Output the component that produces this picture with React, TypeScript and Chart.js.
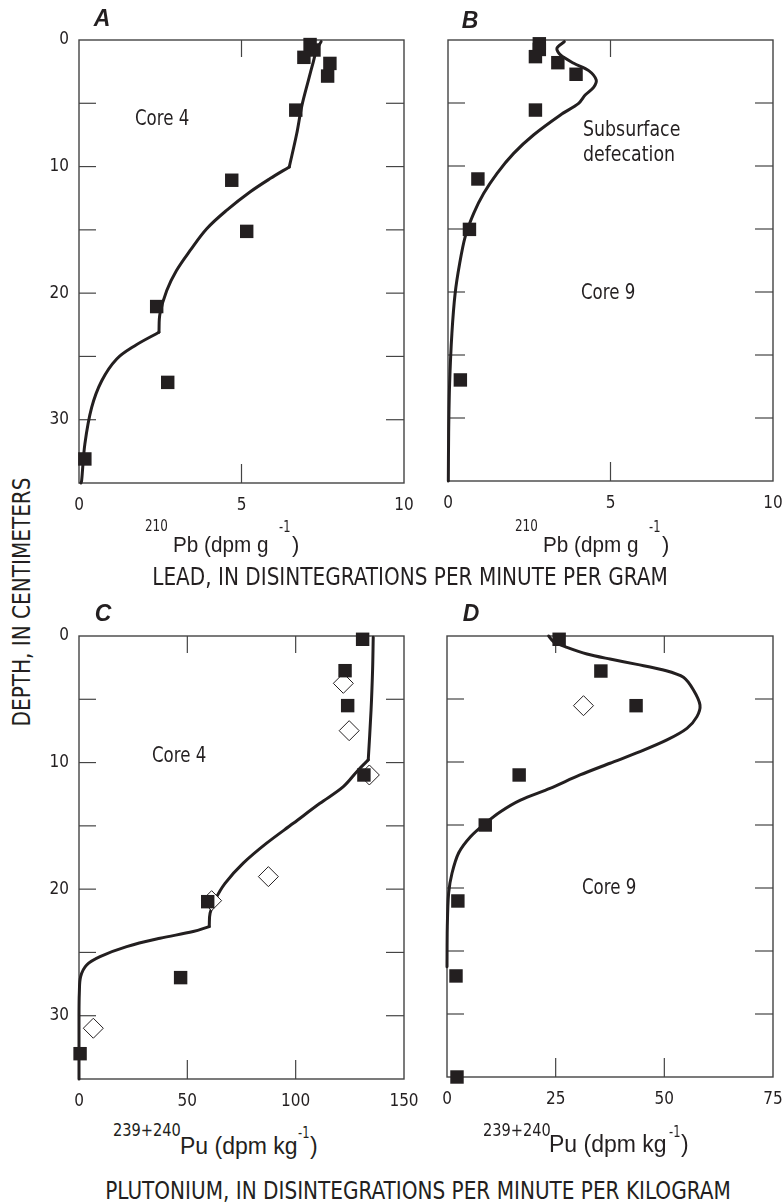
import React, { useEffect, useRef } from 'react';
import { Chart, registerables } from 'chart.js';
Chart.register(...registerables);

const NARROW = "'Liberation Sans Narrow', 'DejaVu Sans Condensed', 'Liberation Sans', sans-serif";
const SANS = "'Liberation Sans', Arial, sans-serif";
const INK = '#231f20';

// ---------- Panel A : 210Pb, core 4 ----------
const aSquaresX = [7.11, 7.23, 6.92, 7.72, 7.65, 6.67, 4.7, 5.16, 2.39, 2.73, 0.18];
const aSquaresDepth = [0.36, 0.79, 1.37, 1.85, 2.85, 5.54, 11.08, 15.12, 21.06, 27.05, 33.1];
// model curve, split at its two breaks (10 cm and 23 cm)
const aCurve1X = [7.45, 7.31, 7.21, 7.06, 6.85, 6.7, 6.47];
const aCurve1Depth = [0.13, 0.79, 1.72, 3.17, 5.28, 7.39, 10.03];
const aCurve2X = [6.47, 5.88, 5.26, 4.54, 3.93, 3.42, 3.0, 2.7, 2.49, 2.46];
const aCurve2Depth = [10.03, 10.95, 12.01, 13.46, 14.91, 16.63, 18.21, 19.79, 21.64, 23.09];
const aCurve3X = [2.46, 1.72, 1.16, 0.7, 0.39, 0.18, 0.08, 0.06];
const aCurve3Depth = [23.09, 24.15, 25.2, 26.92, 29.03, 31.93, 34.84, 35];

// ---------- Panel B : 210Pb, core 9 ----------
const bSquaresX = [2.81, 2.81, 2.69, 3.38, 3.94, 2.69, 0.92, 0.66, 0.38];
const bSquaresDepth = [0.3, 0.75, 1.32, 1.8, 2.72, 5.56, 11.03, 15.03, 26.98];
const bCurveX = [3.58, 3.35, 3.46, 3.87, 4.33, 4.56, 4.48, 4.22, 4.02, 3.46, 2.63, 2.02, 1.51, 1.1, 0.79, 0.53, 0.36, 0.22, 0.12, 0.05, 0.02, 0.01];
const bCurveDepth = [0.13, 0.66, 1.19, 1.85, 2.43, 3.17, 3.76, 4.37, 5.03, 5.95, 7.54, 9.0, 10.58, 12.17, 13.76, 15.61, 17.72, 20.1, 23.28, 27.25, 31.2, 35];

// ---------- Panel C : 239+240Pu, core 4 ----------
const cSquaresX = [130.9, 122.8, 124.0, 131.5, 59.4, 46.9, 0.5];
const cSquaresDepth = [0.26, 2.74, 5.5, 10.98, 20.99, 26.99, 33.0];
const cDiamondsX = [122.0, 124.7, 134.0, 87.4, 61.2, 6.6];
const cDiamondsDepth = [3.74, 7.48, 10.98, 19.01, 20.91, 30.99];
const cCurve1X = [135.8, 135.5, 134.8, 133.5];
const cCurve1Depth = [0.1, 2.69, 5.85, 9.79];
const cCurve2X = [133.5, 128.9, 122.0, 111.2, 98.9, 86.6, 75.8, 67.4, 62.8, 60.5, 60.1];
const cCurve2Depth = [9.79, 10.58, 11.9, 13.22, 14.8, 16.37, 17.95, 19.54, 20.85, 21.9, 22.96];
const cCurve3X = [60.1, 52.7, 37.4, 22.0, 9.7, 3.55, 0.78, 0.15, 0, 0];
const cCurve3Depth = [22.96, 23.35, 23.88, 24.54, 25.33, 25.99, 26.9, 28.22, 30, 35];

// ---------- Panel D : 239+240Pu, core 9 ----------
const dSquaresX = [25.8, 35.4, 43.5, 16.6, 8.8, 2.5, 2.07, 2.3];
const dSquaresDepth = [0.26, 2.78, 5.53, 11.03, 15.0, 21.03, 26.98, 35];
const dDiamondsX = [31.4];
const dDiamondsDepth = [5.53];
const dCurveX = [23.4, 24.5, 27.6, 32.2, 37.5, 43.7, 49.8, 54.4, 56.7, 58.2, 57.5, 55.2, 50.6, 44.4, 37.5, 30.6, 23.7, 16.9, 12.3, 8.8, 5.4, 2.7, 1.15, 0.37, 0.07, 0];
const dCurveDepth = [0, 0.45, 0.9, 1.43, 1.83, 2.25, 2.7, 3.28, 4.29, 5.48, 6.4, 7.33, 8.25, 9.18, 10.1, 11.03, 12.09, 13.02, 13.94, 14.87, 15.93, 17.2, 18.83, 20.42, 23.07, 26.25];

const depthMax = 35;
const depthStep = 5;
const depthLabels = [0, 10, 20, 30];

type P = { x: number; y: number };
const pts = (xs: number[], ys: number[]): P[] => xs.map((x, i) => ({ x, y: ys[i] }));

const framePlugin = {
  id: 'frame',
  beforeDatasetsDraw(chart: any) {
    const { ctx, chartArea: a, scales } = chart;
    const xs = scales.x;
    const ys = scales.y;
    ctx.save();
    ctx.strokeStyle = '#444';
    ctx.lineWidth = 1.4;
    ctx.strokeRect(a.left, a.top, a.right - a.left, a.bottom - a.top);
    ctx.lineWidth = 1.2;
    const line = (x1: number, y1: number, x2: number, y2: number) => {
      ctx.beginPath();
      ctx.moveTo(x1, y1);
      ctx.lineTo(x2, y2);
      ctx.stroke();
    };
    xs.ticks.forEach((t: any) => {
      if (t.value <= xs.min || t.value >= xs.max) return;
      const px = xs.getPixelForValue(t.value);
      line(px, a.top, px, a.top + 17);
      line(px, a.bottom, px, a.bottom - 19);
    });
    ys.ticks.forEach((t: any) => {
      if (t.value <= ys.min || t.value >= ys.max) return;
      const py = ys.getPixelForValue(t.value);
      line(a.left, py, a.left + 17, py);
      line(a.right, py, a.right - 18, py);
    });
    ctx.restore();
  },
};

type PanelProps = {
  L: number; T: number; R: number; B: number;
  xMax: number; xStep: number; showY: boolean;
  squares: P[]; diamonds: P[]; curves: P[][]; tension: number;
};

const YW = 40, PT = 20, PR = 20, XH = 40;

function Panel(p: PanelProps) {
  const ref = useRef<HTMLCanvasElement>(null);
  const w = p.R - p.L + YW + PR;
  const h = p.B - p.T + PT + XH;
  useEffect(() => {
    if (!ref.current) return;
    const tickFont = { family: NARROW, size: 17 };
    const curveSets = p.curves.map((c) => ({
      data: c, showLine: true, pointRadius: 0, borderColor: INK, borderWidth: 3,
      tension: p.tension, clip: false, borderCapStyle: 'round', borderJoinStyle: 'round',
    }));
    const chart = new Chart(ref.current, {
      type: 'scatter',
      data: {
        datasets: [
          { data: p.squares, pointStyle: 'rect', pointRadius: 9.5, backgroundColor: INK, borderColor: INK, borderWidth: 0, clip: false } as any,
          { data: p.diamonds, pointStyle: 'rectRot', pointRadius: 10, backgroundColor: '#fff', borderColor: INK, borderWidth: 1, clip: false } as any,
          ...(curveSets as any[]),
        ],
      },
      options: {
        animation: false,
        responsive: false,
        devicePixelRatio: 1,
        layout: { padding: { top: PT, right: PR, left: 0, bottom: 0 } },
        plugins: { legend: { display: false }, tooltip: { enabled: false } },
        scales: {
          x: {
            type: 'linear', min: 0, max: p.xMax, position: 'bottom',
            ticks: { stepSize: p.xStep, font: tickFont, color: INK, padding: 12, maxRotation: 0, autoSkip: false },
            grid: { display: false, drawTicks: false },
            border: { display: false },
            afterFit: (s: any) => { s.height = XH; s.paddingLeft = 0; s.paddingRight = 0; },
          },
          y: {
            type: 'linear', min: 0, max: depthMax, reverse: true,
            ticks: {
              stepSize: depthStep, font: tickFont, color: INK, padding: 10, autoSkip: false,
              callback: (v: any) => (p.showY && depthLabels.includes(Number(v)) ? String(v) : ''),
            },
            grid: { display: false, drawTicks: false },
            border: { display: false },
            afterFit: (s: any) => { s.width = YW; s.paddingTop = 0; s.paddingBottom = 0; },
          },
        },
      } as any,
      plugins: [framePlugin],
    });
    return () => chart.destroy();
  }, []);
  return (
    <canvas ref={ref} width={w} height={h}
      style={{ position: 'absolute', left: p.L - YW, top: p.T - PT, width: w, height: h }} />
  );
}

type TxtProps = { x: number; y: number; text: string; size: number; family?: string; center?: boolean; bold?: boolean; italic?: boolean; rotate?: boolean; sx?: number };
function Txt({ x, y, text, size, family = NARROW, center = false, bold = false, italic = false, rotate = false, sx = 1 }: TxtProps) {
  let transform = center ? `translate(-50%,-50%) scaleX(${sx})` : `translateY(-50%) scaleX(${sx})`;
  if (rotate) transform = `translate(-50%,-50%) rotate(-90deg) scaleX(${sx})`;
  return (
    <div style={{
      position: 'absolute', left: x, top: y, transform, transformOrigin: center || rotate ? '50% 50%' : '0 50%',
      fontFamily: family, fontSize: size,
      fontWeight: bold ? 'bold' : 'normal', fontStyle: italic ? 'italic' : 'normal',
      lineHeight: 1, whiteSpace: 'nowrap', color: INK,
    }}>{text}</div>
  );
}

export default function App() {
  return (
    <div style={{ position: 'absolute', left: 0, top: 0, width: 783, height: 1204, background: '#fff', overflow: 'hidden' }}>
      <Panel L={79} T={40} R={404} B={483} xMax={10} xStep={5} showY={true}
        squares={pts(aSquaresX, aSquaresDepth)} diamonds={[]}
        curves={[pts(aCurve1X, aCurve1Depth), pts(aCurve2X, aCurve2Depth), pts(aCurve3X, aCurve3Depth)]} tension={0.35} />
      <Panel L={448} T={40} R={773} B={481} xMax={10} xStep={5} showY={false}
        squares={pts(bSquaresX, bSquaresDepth)} diamonds={[]}
        curves={[pts(bCurveX, bCurveDepth)]} tension={0.3} />
      <Panel L={79} T={636} R={404} B={1079} xMax={150} xStep={50} showY={true}
        squares={pts(cSquaresX, cSquaresDepth)} diamonds={pts(cDiamondsX, cDiamondsDepth)}
        curves={[pts(cCurve1X, cCurve1Depth), pts(cCurve2X, cCurve2Depth), pts(cCurve3X, cCurve3Depth)]} tension={0.35} />
      <Panel L={447} T={636} R={773} B={1077} xMax={75} xStep={25} showY={false}
        squares={pts(dSquaresX, dSquaresDepth)} diamonds={pts(dDiamondsX, dDiamondsDepth)}
        curves={[pts(dCurveX, dCurveDepth)]} tension={0.3} />

      <Txt x={102} y={18} text="A" size={23} family={SANS} center bold italic />
      <Txt x={470} y={20} text="B" size={23} family={SANS} center bold italic />
      <Txt x={103} y={613} text="C" size={23} family={SANS} center bold italic />
      <Txt x={471} y={613} text="D" size={23} family={SANS} center bold italic />

      <Txt x={135} y={118} text="Core 4" size={21} sx={0.88} />
      <Txt x={583} y={129} text="Subsurface" size={21} sx={0.92} />
      <Txt x={583} y={154} text="defecation" size={21} sx={0.92} />
      <Txt x={581} y={292} text="Core 9" size={21} sx={0.88} />
      <Txt x={152} y={755} text="Core 4" size={21} sx={0.88} />
      <Txt x={582} y={887} text="Core 9" size={21} sx={0.88} />

      <Txt x={145} y={526} text="210" size={16} sx={0.83} />
      <Txt x={173} y={545} text="Pb (dpm g" size={22} family={SANS} sx={0.94} />
      <Txt x={279} y={527} text="-1" size={15} sx={0.85} />
      <Txt x={292} y={545} text=")" size={22} family={SANS} />

      <Txt x={515} y={526} text="210" size={16} sx={0.83} />
      <Txt x={543} y={545} text="Pb (dpm g" size={22} family={SANS} sx={0.94} />
      <Txt x={649} y={527} text="-1" size={15} sx={0.85} />
      <Txt x={662} y={545} text=")" size={22} family={SANS} />

      <Txt x={410} y={577} text="LEAD, IN DISINTEGRATIONS PER MINUTE PER GRAM" size={24.5} center sx={0.91} />

      <Txt x={113} y={1130} text="239+240" size={18} sx={0.9} />
      <Txt x={180} y={1146} text="Pu (dpm kg" size={23} family={SANS} />
      <Txt x={298} y={1133} text="-1" size={15} sx={0.85} />
      <Txt x={310} y={1146} text=")" size={23} family={SANS} />

      <Txt x={483} y={1130} text="239+240" size={18} sx={0.9} />
      <Txt x={549} y={1144} text="Pu (dpm kg" size={23} family={SANS} />
      <Txt x={669} y={1132} text="-1" size={15} sx={0.85} />
      <Txt x={681} y={1144} text=")" size={23} family={SANS} />

      <Txt x={418} y={1191} text="PLUTONIUM, IN DISINTEGRATIONS PER MINUTE PER KILOGRAM" size={24.5} center sx={0.91} />

      <Txt x={22} y={602} text="DEPTH, IN CENTIMETERS" size={24.5} rotate sx={0.91} />
    </div>
  );
}
